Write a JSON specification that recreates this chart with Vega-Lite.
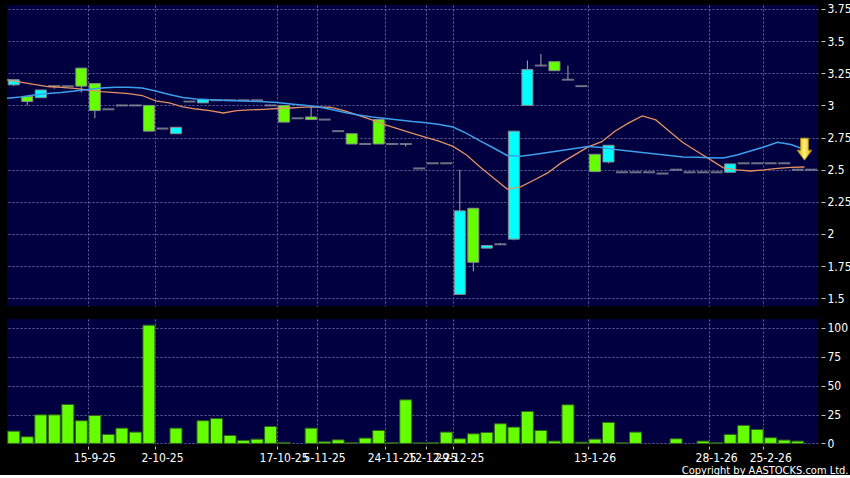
{
  "$schema": "https://vega.github.io/schema/vega-lite/v6.json",
  "background": "#000000",
  "padding": {"left": 4, "top": 2, "right": 0, "bottom": 0},
  "spacing": 13,
  "bounds": "flush",
  "config": {
    "view": {"fill": "#000040", "stroke": null},
    "axis": {
      "gridColor": "#62629c",
      "gridDash": [2, 2],
      "gridWidth": 1,
      "domain": false,
      "labelColor": "#ffffff",
      "labelFont": "DejaVu Sans Condensed, DejaVu Sans",
      "labelFontSize": 12,
      "labelOverlap": false,
      "labelBound": false,
      "tickColor": "#c0c0c0"
    }
  },
  "data": {
    "values": [
      {"i": 1, "o": 3.16, "h": 3.20, "l": 3.15, "c": 3.20, "v": 10.6, "a": 3.198, "b": 3.056},
      {"i": 2, "o": 3.07, "h": 3.07, "l": 3.00, "c": 3.03, "v": 5.7, "a": 3.182, "b": 3.066},
      {"i": 3, "o": 3.06, "h": 3.12, "l": 3.06, "c": 3.12, "v": 24.7, "a": 3.163, "b": 3.081},
      {"i": 4, "o": 3.15, "h": 3.15, "l": 3.13, "c": 3.15, "v": 24.7, "a": 3.147, "b": 3.093},
      {"i": 5, "o": 3.15, "h": 3.15, "l": 3.15, "c": 3.15, "v": 33.7, "a": 3.140, "b": 3.101},
      {"i": 6, "o": 3.29, "h": 3.29, "l": 3.10, "c": 3.15, "v": 19.6, "a": 3.132, "b": 3.112},
      {"i": 7, "o": 3.17, "h": 3.17, "l": 2.90, "c": 2.96, "v": 24.2, "a": 3.120, "b": 3.124},
      {"i": 8, "o": 2.97, "h": 2.97, "l": 2.97, "c": 2.97, "v": 7.8, "a": 3.108, "b": 3.136},
      {"i": 9, "o": 3.00, "h": 3.00, "l": 3.00, "c": 3.00, "v": 13.2, "a": 3.099, "b": 3.141},
      {"i": 10, "o": 3.00, "h": 3.00, "l": 3.00, "c": 3.00, "v": 9.8, "a": 3.091, "b": 3.141},
      {"i": 11, "o": 3.00, "h": 3.00, "l": 2.80, "c": 2.80, "v": 102.3, "a": 3.077, "b": 3.136},
      {"i": 12, "o": 2.82, "h": 2.82, "l": 2.82, "c": 2.82, "v": 0, "a": 3.035, "b": 3.112},
      {"i": 13, "o": 2.78, "h": 2.83, "l": 2.78, "c": 2.83, "v": 13.2, "a": 3.019, "b": 3.085},
      {"i": 14, "o": 3.03, "h": 3.03, "l": 3.03, "c": 3.03, "v": 0, "a": 2.988, "b": 3.062},
      {"i": 15, "o": 3.02, "h": 3.045, "l": 3.02, "c": 3.045, "v": 19.6, "a": 2.972, "b": 3.050},
      {"i": 16, "o": 3.04, "h": 3.04, "l": 3.04, "c": 3.04, "v": 21.6, "a": 2.959, "b": 3.044},
      {"i": 17, "o": 3.04, "h": 3.04, "l": 3.04, "c": 3.04, "v": 6.9, "a": 2.941, "b": 3.040},
      {"i": 18, "o": 3.04, "h": 3.04, "l": 3.04, "c": 3.04, "v": 2.6, "a": 2.959, "b": 3.036},
      {"i": 19, "o": 3.04, "h": 3.04, "l": 3.04, "c": 3.04, "v": 3.7, "a": 2.965, "b": 3.033},
      {"i": 20, "o": 3.00, "h": 3.00, "l": 3.00, "c": 3.00, "v": 14.7, "a": 2.970, "b": 3.029},
      {"i": 21, "o": 3.00, "h": 3.00, "l": 2.87, "c": 2.87, "v": 0.9, "a": 2.976, "b": 3.023},
      {"i": 22, "o": 2.90, "h": 2.90, "l": 2.90, "c": 2.90, "v": 0, "a": 2.980, "b": 3.011},
      {"i": 23, "o": 2.91, "h": 3.00, "l": 2.89, "c": 2.89, "v": 13.2, "a": 2.986, "b": 3.001},
      {"i": 24, "o": 2.89, "h": 2.89, "l": 2.89, "c": 2.89, "v": 1.4, "a": 2.988, "b": 2.990},
      {"i": 25, "o": 2.80, "h": 2.80, "l": 2.80, "c": 2.80, "v": 3.1, "a": 2.984, "b": 2.969},
      {"i": 26, "o": 2.78, "h": 2.78, "l": 2.70, "c": 2.70, "v": 0.6, "a": 2.957, "b": 2.945},
      {"i": 27, "o": 2.70, "h": 2.70, "l": 2.70, "c": 2.70, "v": 4.6, "a": 2.922, "b": 2.926},
      {"i": 28, "o": 2.89, "h": 2.89, "l": 2.70, "c": 2.70, "v": 11.2, "a": 2.887, "b": 2.910},
      {"i": 29, "o": 2.70, "h": 2.70, "l": 2.70, "c": 2.70, "v": 0.6, "a": 2.848, "b": 2.899},
      {"i": 30, "o": 2.70, "h": 2.70, "l": 2.68, "c": 2.70, "v": 37.7, "a": 2.815, "b": 2.887},
      {"i": 31, "o": 2.51, "h": 2.51, "l": 2.51, "c": 2.51, "v": 0.5, "a": 2.782, "b": 2.875},
      {"i": 32, "o": 2.55, "h": 2.55, "l": 2.55, "c": 2.55, "v": 0.8, "a": 2.751, "b": 2.866},
      {"i": 33, "o": 2.55, "h": 2.55, "l": 2.55, "c": 2.55, "v": 9.8, "a": 2.720, "b": 2.852},
      {"i": 34, "o": 1.53, "h": 2.50, "l": 1.53, "c": 2.18, "v": 4.0, "a": 2.681, "b": 2.832},
      {"i": 35, "o": 2.20, "h": 2.20, "l": 1.71, "c": 1.78, "v": 8.3, "a": 2.615, "b": 2.783},
      {"i": 36, "o": 1.89, "h": 1.91, "l": 1.89, "c": 1.91, "v": 9.5, "a": 2.521, "b": 2.724},
      {"i": 37, "o": 1.92, "h": 1.93, "l": 1.92, "c": 1.92, "v": 17.0, "a": 2.436, "b": 2.669},
      {"i": 38, "o": 1.96, "h": 2.80, "l": 1.95, "c": 2.80, "v": 14.1, "a": 2.350, "b": 2.611},
      {"i": 39, "o": 3.00, "h": 3.35, "l": 3.00, "c": 3.28, "v": 27.7, "a": 2.366, "b": 2.605},
      {"i": 40, "o": 3.31, "h": 3.40, "l": 3.31, "c": 3.31, "v": 11.2, "a": 2.420, "b": 2.619},
      {"i": 41, "o": 3.34, "h": 3.34, "l": 3.27, "c": 3.27, "v": 2.0, "a": 2.475, "b": 2.634},
      {"i": 42, "o": 3.20, "h": 3.31, "l": 3.20, "c": 3.20, "v": 33.4, "a": 2.553, "b": 2.650},
      {"i": 43, "o": 3.15, "h": 3.15, "l": 3.15, "c": 3.15, "v": 1.1, "a": 2.615, "b": 2.665},
      {"i": 44, "o": 2.62, "h": 2.62, "l": 2.485, "c": 2.485, "v": 3.7, "a": 2.677, "b": 2.681},
      {"i": 45, "o": 2.56, "h": 2.69, "l": 2.55, "c": 2.69, "v": 18.2, "a": 2.718, "b": 2.673},
      {"i": 46, "o": 2.48, "h": 2.48, "l": 2.48, "c": 2.48, "v": 0.6, "a": 2.801, "b": 2.657},
      {"i": 47, "o": 2.48, "h": 2.48, "l": 2.48, "c": 2.48, "v": 9.8, "a": 2.864, "b": 2.646},
      {"i": 48, "o": 2.48, "h": 2.48, "l": 2.48, "c": 2.48, "v": 0, "a": 2.918, "b": 2.634},
      {"i": 49, "o": 2.47, "h": 2.47, "l": 2.47, "c": 2.47, "v": 0, "a": 2.887, "b": 2.622},
      {"i": 50, "o": 2.50, "h": 2.50, "l": 2.50, "c": 2.50, "v": 4.0, "a": 2.799, "b": 2.611},
      {"i": 51, "o": 2.48, "h": 2.48, "l": 2.48, "c": 2.48, "v": 0, "a": 2.712, "b": 2.599},
      {"i": 52, "o": 2.48, "h": 2.48, "l": 2.48, "c": 2.48, "v": 2.0, "a": 2.646, "b": 2.597},
      {"i": 53, "o": 2.48, "h": 2.48, "l": 2.48, "c": 2.48, "v": 0.6, "a": 2.580, "b": 2.593},
      {"i": 54, "o": 2.48, "h": 2.545, "l": 2.48, "c": 2.545, "v": 7.8, "a": 2.514, "b": 2.591},
      {"i": 55, "o": 2.55, "h": 2.55, "l": 2.55, "c": 2.55, "v": 15.6, "a": 2.498, "b": 2.615},
      {"i": 56, "o": 2.55, "h": 2.55, "l": 2.55, "c": 2.55, "v": 12.1, "a": 2.490, "b": 2.646},
      {"i": 57, "o": 2.55, "h": 2.55, "l": 2.55, "c": 2.55, "v": 4.9, "a": 2.498, "b": 2.677},
      {"i": 58, "o": 2.55, "h": 2.55, "l": 2.55, "c": 2.55, "v": 2.9, "a": 2.510, "b": 2.713},
      {"i": 59, "o": 2.50, "h": 2.50, "l": 2.50, "c": 2.50, "v": 2.0, "a": 2.518, "b": 2.696},
      {"i": 60, "o": 2.50, "h": 2.50, "l": 2.50, "c": 2.50, "v": 0, "a": 2.521, "b": 2.657}
    ]
  },
  "vconcat": [
    {
      "width": 811,
      "height": 301,
      "resolve": {"axis": {"x": "independent", "y": "independent"}},
      "layer": [
        {
          "mark": {"type": "rule", "color": "#a8a8a8", "strokeWidth": 1},
          "encoding": {
            "x": {"field": "i", "type": "ordinal",
              "scale": {"type": "band", "paddingInner": 0, "paddingOuter": 0,
                "domain": [1,2,3,4,5,6,7,8,9,10,11,12,13,14,15,16,17,18,19,20,21,22,23,24,25,26,27,28,29,30,31,32,33,34,35,36,37,38,39,40,41,42,43,44,45,46,47,48,49,50,51,52,53,54,55,56,57,58,59,60]},
              "axis": {"values": [7,12,21,24,29,32,34,44,53,57], "bandPosition": 0, "labels": false, "ticks": false, "grid": true, "title": null}},
            "y": {"field": "l", "type": "quantitative",
              "scale": {"domain": [1.44, 3.781], "nice": false, "zero": false},
              "axis": {"orient": "right", "values": [1.5,1.75,2,2.25,2.5,2.75,3,3.25,3.5,3.75], "format": ".3~g", "grid": true, "offset": 3, "tickSize": 4, "labelPadding": 2, "title": null}},
            "y2": {"field": "h"}
          }
        },
        {
          "transform": [{"filter": "datum.o != datum.c"}],
          "mark": {"type": "bar", "width": 11, "stroke": "#8a8a8a", "strokeWidth": 1},
          "encoding": {
            "x": {"field": "i", "type": "ordinal", "axis": null},
            "y": {"field": "o", "type": "quantitative", "axis": null},
            "y2": {"field": "c"},
            "color": {"condition": {"test": "datum.c > datum.o", "value": "#00ffff"}, "value": "#66ff00"}
          }
        },
        {
          "transform": [{"filter": "datum.o == datum.c"}],
          "mark": {"type": "tick", "orient": "horizontal", "size": 12, "thickness": 2, "color": "#a0a0a0"},
          "encoding": {
            "x": {"field": "i", "type": "ordinal", "axis": null},
            "y": {"field": "c", "type": "quantitative", "axis": null}
          }
        },
        {
          "mark": {"type": "line", "color": "#e39062", "strokeWidth": 1.3},
          "encoding": {
            "x": {"field": "i", "type": "ordinal", "bandPosition": 0, "axis": null},
            "y": {"field": "a", "type": "quantitative", "axis": null}
          }
        },
        {
          "mark": {"type": "line", "color": "#3d9fec", "strokeWidth": 1.5},
          "encoding": {
            "x": {"field": "i", "type": "ordinal", "bandPosition": 0, "axis": null},
            "y": {"field": "b", "type": "quantitative", "axis": null}
          }
        },
        {
          "data": {"values": [{"i": 60, "p": 2.66}]},
          "mark": {"type": "point", "filled": true, "opacity": 1, "size": 484,
            "shape": "M-0.36,-1L0.36,-1L0.36,0.09L0.68,0.09L0,1L-0.68,0.09L-0.36,0.09Z",
            "stroke": "#b08400", "strokeWidth": 0.8,
            "fill": {"gradient": "linear", "x1": 0, "y1": 0, "x2": 1, "y2": 0,
              "stops": [{"offset": 0, "color": "#d9a200"}, {"offset": 0.5, "color": "#fff27a"}, {"offset": 1, "color": "#d9a200"}]}},
          "encoding": {
            "x": {"field": "i", "type": "ordinal", "bandPosition": 0, "axis": null},
            "y": {"field": "p", "type": "quantitative", "axis": null}
          }
        }
      ]
    },
    {
      "width": 811,
      "height": 125,
      "transform": [{"filter": "datum.v > 0"}],
      "mark": {"type": "bar", "width": 12, "color": "#66ff00", "stroke": "#2f5f1f", "strokeWidth": 1},
      "encoding": {
        "x": {"field": "i", "type": "ordinal",
          "scale": {"type": "band", "paddingInner": 0, "paddingOuter": 0,
            "domain": [1,2,3,4,5,6,7,8,9,10,11,12,13,14,15,16,17,18,19,20,21,22,23,24,25,26,27,28,29,30,31,32,33,34,35,36,37,38,39,40,41,42,43,44,45,46,47,48,49,50,51,52,53,54,55,56,57,58,59,60]},
          "axis": {"values": [7,12,21,24,29,32,34,44,53,57], "bandPosition": 0, "grid": true, "labelAngle": 0,
            "offset": 2, "tickSize": 3, "labelPadding": 3,
            "labelExpr": "datum.value == 7 ? '15-9-25' : datum.value == 12 ? '2-10-25' : datum.value == 21 ? '17-10-25' : datum.value == 24 ? '5-11-25' : datum.value == 29 ? '24-11-25' : datum.value == 32 ? '12-12-25' : datum.value == 34 ? '29-12-25' : datum.value == 44 ? '13-1-26' : datum.value == 53 ? '28-1-26' : '25-2-26'",
            "title": "Copyright by AASTOCKS.com Ltd.",
            "titleColor": "#ffffff", "titleFont": "DejaVu Sans Condensed, DejaVu Sans", "titleFontSize": 11, "titleFontWeight": "normal",
            "titleAlign": "right", "titleBaseline": "middle", "titleX": 841, "titleY": 24}},
        "y": {"field": "v", "type": "quantitative",
          "scale": {"domain": [-0.5, 107.6], "nice": false, "zero": false},
          "axis": {"orient": "right", "values": [0, 25, 50, 75, 100], "grid": true, "offset": 3, "tickSize": 4, "labelPadding": 2, "title": null}}
      }
    }
  ]
}
